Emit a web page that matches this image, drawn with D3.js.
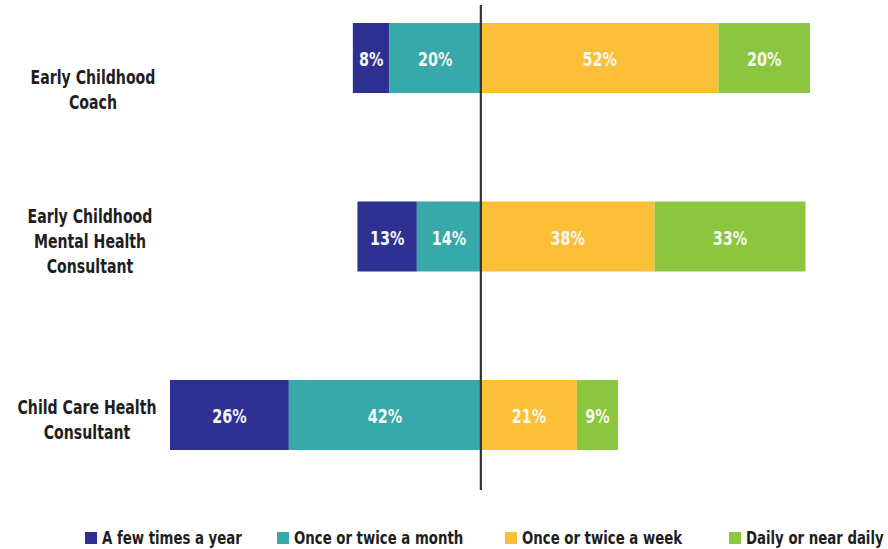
<!DOCTYPE html>
<html>
<head>
<meta charset="utf-8">
<script src="https://cdn.jsdelivr.net/npm/d3@7/dist/d3.min.js"></script>
<style>
  html, body { margin: 0; padding: 0; background: #fff; }
  svg { display: block; }
  text { font-family: "DejaVu Sans Condensed", "DejaVu Sans", sans-serif; font-stretch: condensed; }
</style>
</head>
<body>
<svg id="chart" width="888" height="549"></svg>
<script>
// Roles, each label split into lines
const categories = ["Early Childhood Coach", "Early Childhood Mental Health Consultant", "Child Care Health Consultant"];
const categoryLines = [
  ["Early Childhood", "Coach"],
  ["Early Childhood", "Mental Health", "Consultant"],
  ["Child Care Health", "Consultant"]
];

// Frequency of contact (percent of respondents)
const seriesNames = ["A few times a year", "Once or twice a month", "Once or twice a week", "Daily or near daily"];
const fewTimesYear   = [8, 13, 26];
const onceTwiceMonth = [20, 14, 42];
const onceTwiceWeek  = [52, 38, 21];
const dailyNearDaily = [20, 33, 9];

const colors = ["#2e3192", "#37a9ab", "#fbbf38", "#8cc63f"];

const svg = d3.select("#chart");

const x = d3.scaleLinear().domain([-68, 72]).range([170, 810]);
const y = d3.scalePoint().domain(categories).range([58, 415]);
const barH = 70;

// Horizontal squeeze that gives the condensed headline look
const squeezeLabel = 0.785, squeezeValue = 0.8, squeezeLegend = 0.87;
const labelShift = [31.5, 4, 4];   // label block offset below bar centre
const labelX = [93, 90, 87], lineH = 25;

// Build diverging segments: "less often" answers stack leftwards from zero
const segments = [];
categories.forEach((cat, i) => {
  const left = [fewTimesYear[i], onceTwiceMonth[i]];
  const right = [onceTwiceWeek[i], dailyNearDaily[i]];
  let x0 = -(left[0] + left[1]);
  left.forEach((v, k) => {
    segments.push({ cat, series: k, v, x0, x1: x0 + v });
    x0 += v;
  });
  let r0 = 0;
  right.forEach((v, k) => {
    segments.push({ cat, series: k + 2, v, x0: r0, x1: r0 + v });
    r0 += v;
  });
});

const bars = svg.append("g");
bars.selectAll("rect")
  .data(segments)
  .join("rect")
  .attr("x", d => x(d.x0))
  .attr("width", d => x(d.x1) - x(d.x0))
  .attr("y", d => y(d.cat) - barH / 2)
  .attr("height", barH)
  .attr("fill", d => colors[d.series]);

bars.selectAll("g.val")
  .data(segments)
  .join("g")
  .attr("class", "val")
  .attr("transform", d => `translate(${(x(d.x0) + x(d.x1)) / 2},${y(d.cat) + 1}) scale(${squeezeValue},1)`)
  .append("text")
  .attr("dy", "0.36em")
  .attr("text-anchor", "middle")
  .attr("fill", "#f6f6f2")
  .attr("font-size", 20)
  .attr("font-weight", "bold")
  .text(d => d.v + "%");

// Zero line
svg.append("line")
  .attr("x1", x(0)).attr("x2", x(0))
  .attr("y1", 5).attr("y2", 490)
  .attr("stroke", "#333")
  .attr("stroke-width", 2.2);

// Category labels
const labels = svg.append("g");
categories.forEach((cat, i) => {
  const lines = categoryLines[i];
  const cy = y(cat) + labelShift[i];
  const t = labels.append("g")
    .attr("transform", `translate(${labelX[i]},${cy}) scale(${squeezeLabel},1)`)
    .append("text")
    .attr("text-anchor", "middle")
    .attr("fill", "#1e1e1e")
    .attr("font-size", 20)
    .attr("font-weight", "bold");
  lines.forEach((ln, j) => {
    t.append("tspan")
      .attr("x", 0)
      .attr("y", (j - (lines.length - 1) / 2) * lineH)
      .attr("dy", "0.36em")
      .text(ln);
  });
});

// Legend
const legendX = [85, 277, 505, 729];
const legend = svg.append("g");
seriesNames.forEach((name, i) => {
  const g = legend.append("g").attr("transform", `translate(${legendX[i]},538)`);
  g.append("rect").attr("x", 0).attr("y", -6).attr("width", 12).attr("height", 12).attr("fill", colors[i]);
  g.append("g")
    .attr("transform", `translate(17,0) scale(${squeezeLegend},1)`)
    .append("text")
    .attr("dy", "0.36em")
    .attr("fill", "#1e1e1e")
    .attr("font-size", 17)
    .attr("font-weight", "bold")
    .text(name);
});
</script>
</body>
</html>
